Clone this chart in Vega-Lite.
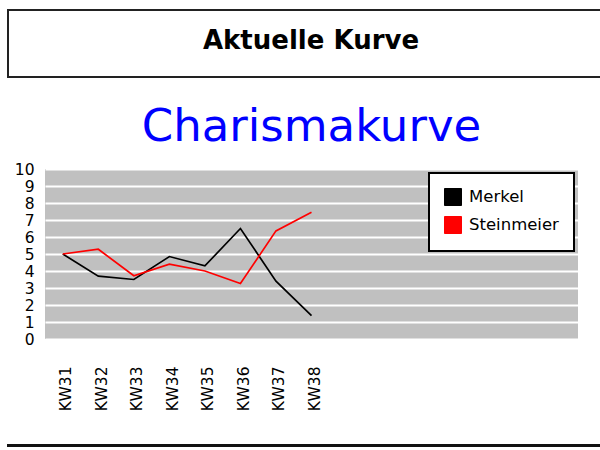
{
  "$schema": "https://vega.github.io/schema/vega-lite/v6.json",
  "padding": {"left": -27, "top": 9, "right": 0, "bottom": 0},
  "autosize": {"type": "pad"},
  "background": "white",
  "config": {"view": {"stroke": null}, "font": "DejaVu Sans"},
  "center": true,
  "spacing": 27,
  "resolve": {"legend": {"color": "independent"}},
  "datasets": {
    "kurve": [
      {"KW": "KW31", "Person": "Merkel", "Charisma": 5.0},
      {"KW": "KW32", "Person": "Merkel", "Charisma": 3.7},
      {"KW": "KW33", "Person": "Merkel", "Charisma": 3.5},
      {"KW": "KW34", "Person": "Merkel", "Charisma": 4.85},
      {"KW": "KW35", "Person": "Merkel", "Charisma": 4.3},
      {"KW": "KW36", "Person": "Merkel", "Charisma": 6.5},
      {"KW": "KW37", "Person": "Merkel", "Charisma": 3.4},
      {"KW": "KW38", "Person": "Merkel", "Charisma": 1.37},
      {"KW": "KW31", "Person": "Steinmeier", "Charisma": 5.0},
      {"KW": "KW32", "Person": "Steinmeier", "Charisma": 5.28},
      {"KW": "KW33", "Person": "Steinmeier", "Charisma": 3.72},
      {"KW": "KW34", "Person": "Steinmeier", "Charisma": 4.4},
      {"KW": "KW35", "Person": "Steinmeier", "Charisma": 4.0},
      {"KW": "KW36", "Person": "Steinmeier", "Charisma": 3.26},
      {"KW": "KW37", "Person": "Steinmeier", "Charisma": 6.36},
      {"KW": "KW38", "Person": "Steinmeier", "Charisma": 7.46}
    ]
  },
  "vconcat": [
    {
      "width": 606,
      "height": 67,
      "view": {"stroke": "#222222", "strokeWidth": 2},
      "data": {"values": [{"label": "Aktuelle Kurve"}]},
      "mark": {"type": "text", "font": "DejaVu Sans", "fontWeight": "bold", "fontSize": 26, "baseline": "alphabetic", "dy": 5, "color": "black"},
      "encoding": {"text": {"field": "label"}}
    },
    {
      "width": 533,
      "height": 170,
      "view": {"fill": "#c0c0c0", "stroke": null},
      "title": {"text": "Charismakurve", "font": "DejaVu Sans", "fontSize": 45, "fontWeight": "normal", "color": "#0000ff", "anchor": "middle", "baseline": "alphabetic", "offset": -24},
      "data": {"name": "kurve"},
      "mark": {"type": "line", "strokeWidth": 1.7},
      "encoding": {
        "x": {
          "field": "KW",
          "type": "ordinal",
          "scale": {"type": "point", "padding": 0.5, "domain": ["KW31", "KW32", "KW33", "KW34", "KW35", "KW36", "KW37", "KW38", "KW39", "KW40", "KW41", "KW42", "KW43", "KW44", "KW45"]},
          "axis": {"title": " ", "titleX": 514, "titleY": 0, "titleAlign": "left", "titleBaseline": "top", "titleFontSize": 10, "values": ["KW31", "KW32", "KW33", "KW34", "KW35", "KW36", "KW37", "KW38"], "labelAngle": 270, "labelAlign": "right", "labelBaseline": "middle", "labelPadding": 27, "labelOffset": 3, "labelFont": "DejaVu Sans", "labelFontSize": 15.5, "labelColor": "black", "ticks": false, "domain": false, "grid": false}
        },
        "y": {
          "field": "Charisma",
          "type": "quantitative",
          "scale": {"domain": [0, 10], "nice": false, "zero": true},
          "axis": {"title": " ", "titleX": -72, "titleY": 0, "titleAngle": 0, "titleAlign": "left", "titleBaseline": "top", "titleFontSize": 10, "values": [0, 1, 2, 3, 4, 5, 6, 7, 8, 9, 10], "labelPadding": 11, "labelFont": "DejaVu Sans", "labelFontSize": 15.5, "labelColor": "black", "ticks": false, "domain": false, "grid": true, "gridColor": "white", "gridWidth": 2, "gridOpacity": 1}
        },
        "color": {
          "field": "Person",
          "type": "nominal",
          "scale": {"domain": ["Merkel", "Steinmeier"], "range": ["#000000", "#ff0000"]},
          "legend": {
            "title": null,
            "orient": "top-right",
            "offset": 4,
            "padding": 15,
            "fillColor": "white",
            "strokeColor": "black",
            "symbolType": "square",
            "symbolSize": 289,
            "symbolStrokeWidth": 1,
            "symbolStrokeColor": "black",
            "labelFont": "DejaVu Sans",
            "labelFontSize": 16.5,
            "labelColor": "black",
            "labelOffset": 7,
            "rowPadding": 6,
            "encode": {
              "legend": {"update": {"strokeWidth": {"value": 2}}},
              "symbols": {"update": {"fill": {"scale": "color", "field": "value"}, "fillOpacity": {"value": 1}, "stroke": {"value": "black"}}}
            }
          }
        }
      }
    },
    {
      "width": 606,
      "height": 1,
      "view": {"stroke": "#111111", "strokeWidth": 2},
      "data": {"values": [{"label": ""}]},
      "mark": {"type": "text"},
      "encoding": {"text": {"field": "label"}}
    }
  ]
}
